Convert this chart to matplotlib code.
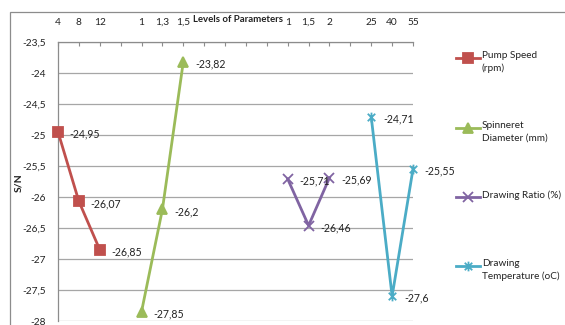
import matplotlib
matplotlib.use("Agg")
import matplotlib.pyplot as plt
from matplotlib.lines import Line2D
from matplotlib.patches import Rectangle
from matplotlib.path import Path

plt.rcParams['font.family'] = ['Lato', 'DejaVu Sans']

# ---- data ----
categories = ["4", "8", "12", "", "1", "1,3", "1,5", "", "", "", "", "1", "1,5", "2", "", "25", "40", "55"]
pump_idx = [0, 1, 2]
pump_vals = [-24.95, -26.07, -26.85]
spin_idx = [4, 5, 6]
spin_vals = [-27.85, -26.2, -23.82]
ratio_idx = [11, 12, 13]
ratio_vals = [-25.71, -26.46, -25.69]
temp_idx = [15, 16, 17]
temp_vals = [-24.71, -27.6, -25.55]
series_names = ["Pump Speed\n(rpm)", "Spinneret\nDiameter (mm)", "Drawing Ratio (%)", "Drawing\nTemperature (oC)"]
y_ticks = [-28, -27.5, -27, -26.5, -26, -25.5, -25, -24.5, -24, -23.5]

colors = ["#C0504D", "#9BBB59", "#8064A2", "#4BACC6"]

star = Path([(-1, -1), (1, 1), (-1, 1), (1, -1), (0, -1.3), (0, 1.3)],
            [Path.MOVETO, Path.LINETO, Path.MOVETO, Path.LINETO, Path.MOVETO, Path.LINETO])
markers = ["s", "^", "x", star]
msizes = [6.5, 7, 7, 7]

def fmt(v):
    s = ("%g" % v).replace(".", ",")
    return s

W, H = 565, 325
fig = plt.figure(figsize=(W / 100, H / 100), dpi=100)
ax = fig.add_axes([58 / W, 1 - 321 / H, (413 - 58) / W, (321 - 42) / H])

# chart border
fig.add_artist(Rectangle((10 / W, -0.1), 1.2, 1 - 12 / H + 0.1, transform=fig.transFigure,
                         fill=False, edgecolor="#8C8C8C", linewidth=0.9))

for yv in y_ticks:
    ax.axhline(yv, color="#A6A6A6", linewidth=0.9, zorder=0)

data = [(pump_idx, pump_vals), (spin_idx, spin_vals), (ratio_idx, ratio_vals), (temp_idx, temp_vals)]
for (xi, yv), c, m, ms in zip(data, colors, markers, msizes):
    ax.plot(xi, yv, color=c, linewidth=2.0, marker=m, markersize=ms,
            markerfacecolor=c, markeredgecolor=c, markeredgewidth=1.3, zorder=3, clip_on=False)
    for x, y in zip(xi, yv):
        ax.annotate(fmt(y), (x, y), xytext=(8.5, -1.5), textcoords="offset points",
                    fontsize=7.6, va="center", ha="left", color="#222222")

ax.set_xlim(0, len(categories) - 1)
ax.set_ylim(-28, -23.5)
ax.set_yticks(y_ticks)
ax.set_yticklabels([fmt(v) for v in y_ticks])
ax.set_xticks(range(len(categories)))
ax.set_xticklabels(categories)
ax.xaxis.tick_top()
ax.tick_params(axis="x", which="both", direction="in", length=3, color="#8C8C8C",
               labelsize=7.3, pad=11, labelcolor="#222222")
ax.tick_params(axis="y", length=0, labelsize=7.3, pad=9, labelcolor="#222222")
for s in ["right", "bottom"]:
    ax.spines[s].set_visible(False)
for s in ["left", "top"]:
    ax.spines[s].set_color("#8C8C8C")
    ax.spines[s].set_linewidth(0.9)

fig.text(238 / W, 1 - 20 / H, "Levels of Parameters", fontsize=6.9, fontweight="bold",
         ha="center", va="center", color="#222222")
fig.text(19 / W, 1 - 183 / H, "S/N", fontsize=7.5, fontweight="bold", rotation=90,
         ha="center", va="center", color="#222222")

# legend drawn manually
leg_y = [58, 128, 197, 266]
for name, c, m, ms, ly in zip(series_names, colors, markers, msizes, leg_y):
    yf = 1 - ly / H
    fig.add_artist(Line2D([456 / W, 480 / W], [yf, yf], transform=fig.transFigure,
                          color=c, linewidth=2.0))
    fig.add_artist(Line2D([468 / W], [yf], transform=fig.transFigure, marker=m,
                          markersize=ms, color=c, markerfacecolor=c, markeredgewidth=1.3,
                          linestyle="none"))
    fig.text(482 / W, yf + 6.5 / H, name, fontsize=7.2, ha="left", va="top",
             linespacing=1.45, color="#222222")

fig.savefig("out.png", dpi=100)
